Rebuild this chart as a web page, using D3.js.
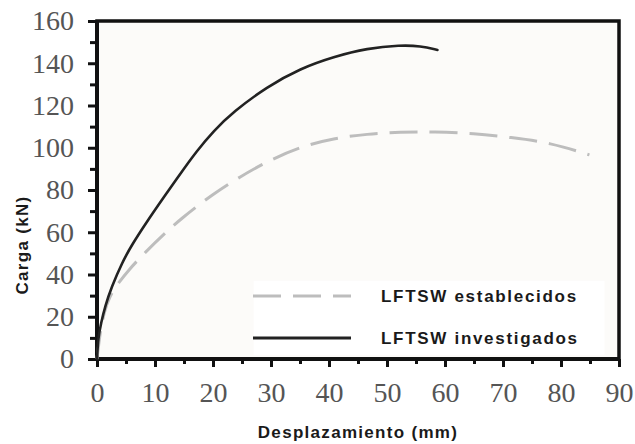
<!DOCTYPE html>
<html>
<head>
<meta charset="utf-8">
<script src="https://cdn.jsdelivr.net/npm/d3@7"></script>
<style>
  body { margin: 0; background: #fff; }
  .tickText { font-family: "Liberation Serif", serif; font-size: 28px; fill: #555; }
  .titleText { font-family: "Liberation Sans", Arial, sans-serif; font-weight: bold; font-size: 17px; fill: #1a1a1a; letter-spacing: 1.3px; }
  .legendText { font-family: "Liberation Sans", Arial, sans-serif; font-weight: bold; font-size: 17px; fill: #1a1a1a; letter-spacing: 1.7px; }
</style>
</head>
<body>
<div id="chart"></div>
<script>

// data (displacement mm, load kN)
var investigadosX = [0, 0.2, 0.7, 1.4, 2.5, 4.3, 6.0, 8.6, 11.5, 14.3, 17.2, 20.1, 23.5, 29.3, 35.1, 40.8, 46.6, 52.3, 55.8, 58.7];
var investigadosY = [0, 10, 17, 25, 34, 45.5, 54, 65, 76.5, 87.5, 98.5, 108, 117, 128.9, 137.6, 143.1, 147.1, 148.6, 148.2, 146.3];

var establecidosX = [0, 0.5, 1.2, 2.2, 3.7, 5.4, 8.3, 11.7, 14.3, 20.1, 24.7, 29.3, 35.1, 40.8, 46.6, 52.3, 58.1, 65, 71.3, 78.2, 84.9];
var establecidosY = [0, 12, 22, 30, 36, 42, 50.5, 59.5, 66, 78.4, 86.3, 93.5, 100.5, 104.5, 106.5, 107.5, 107.6, 106.8, 104.9, 102.4, 96.6];

var xTicks = [0, 10, 20, 30, 40, 50, 60, 70, 80, 90];
var yTicks = [0, 20, 40, 60, 80, 100, 120, 140, 160];

var seriesNames = ["LFTSW establecidos", "LFTSW investigados"];
var xTitle = "Desplazamiento (mm)";
var yTitle = "Carga (kN)";

var width = 635, height = 444;
var margin = {top: 21, right: 16, bottom: 85, left: 97};

var svg = d3.select("#chart").append("svg")
    .attr("width", width)
    .attr("height", height);

var x = d3.scaleLinear().domain([0, 90]).range([margin.left, width - margin.right]);
var y = d3.scaleLinear().domain([0, 160]).range([height - margin.bottom, margin.top]);

// plot background + frame
svg.append("rect")
    .attr("x", x(0)).attr("y", y(160))
    .attr("width", x(90) - x(0)).attr("height", y(0) - y(160))
    .attr("fill", "#fcfbf9")
    .attr("stroke", "#111")
    .attr("stroke-width", 3.5);

// legend backdrop
svg.append("rect")
    .attr("x", x(27)).attr("y", y(37))
    .attr("width", x(87.5) - x(27)).attr("height", y(2) - y(37))
    .attr("fill", "#fff");

// minor ticks
var xMinor = d3.axisBottom(x).tickValues(d3.range(5, 90, 10)).tickSize(5).tickFormat("");
var yMinor = d3.axisLeft(y).tickValues(d3.range(10, 160, 20)).tickSize(7).tickFormat("");

svg.append("g").attr("class", "x-minor")
    .attr("transform", "translate(0," + y(0) + ")").call(xMinor);
svg.append("g").attr("class", "y-minor")
    .attr("transform", "translate(" + x(0) + ",0)").call(yMinor);

// major axes
var xAxis = d3.axisBottom(x).tickValues(xTicks).tickSize(8).tickPadding(14).tickFormat(d3.format("d"));
var yAxis = d3.axisLeft(y).tickValues(yTicks).tickSize(9).tickPadding(14).tickFormat(d3.format("d"));

svg.append("g").attr("class", "x-axis")
    .attr("transform", "translate(0," + y(0) + ")").call(xAxis);
svg.append("g").attr("class", "y-axis")
    .attr("transform", "translate(" + x(0) + ",0)").call(yAxis);

svg.selectAll(".domain").remove();
svg.selectAll(".tick line").attr("stroke", "#111").attr("stroke-width", 3);
svg.selectAll(".x-axis .tick text, .y-axis .tick text")
    .attr("class", "tickText")
    .attr("fill", null);
svg.selectAll(".x-axis .tick text").attr("dy", "0.75em");

// axis lines drawn on top, thick
svg.append("line")
    .attr("x1", x(0)).attr("x2", x(90)).attr("y1", y(0)).attr("y2", y(0))
    .attr("stroke", "#111").attr("stroke-width", 4);
svg.append("line")
    .attr("x1", x(0)).attr("x2", x(0)).attr("y1", y(0)).attr("y2", y(160))
    .attr("stroke", "#111").attr("stroke-width", 4);

// curves
var line = d3.line()
    .x(function(d) { return x(d[0]); })
    .y(function(d) { return y(d[1]); })
    .curve(d3.curveBasis);

var establecidos = d3.zip(establecidosX, establecidosY);
var investigados = d3.zip(investigadosX, investigadosY);

svg.append("path")
    .datum(establecidos)
    .attr("d", line)
    .attr("fill", "none")
    .attr("stroke", "#bdbdbd")
    .attr("stroke-width", 3)
    .attr("stroke-dasharray", "28,12");

svg.append("path")
    .datum(investigados)
    .attr("d", line)
    .attr("fill", "none")
    .attr("stroke", "#222")
    .attr("stroke-width", 2.6)
    .attr("stroke-linecap", "round");

// legend
var legend = svg.append("g").attr("class", "legend");
var legendRows = [
  {name: seriesNames[0], ly: 296, stroke: "#bdbdbd", dash: "28,12", w: 3},
  {name: seriesNames[1], ly: 338, stroke: "#222", dash: null, w: 3}
];
legendRows.forEach(function(r) {
  legend.append("line")
      .attr("x1", 253).attr("x2", 351)
      .attr("y1", r.ly).attr("y2", r.ly)
      .attr("stroke", r.stroke)
      .attr("stroke-width", r.w)
      .attr("stroke-dasharray", r.dash);
  legend.append("text")
      .attr("class", "legendText")
      .attr("x", 381).attr("y", r.ly + 6)
      .text(r.name);
});

// axis titles
svg.append("text")
    .attr("class", "titleText")
    .attr("text-anchor", "middle")
    .attr("x", 358).attr("y", 438)
    .text(xTitle);

svg.append("text")
    .attr("class", "titleText")
    .attr("text-anchor", "middle")
    .attr("transform", "translate(28,245) rotate(-90)")
    .text(yTitle);

</script>
</body>
</html>
